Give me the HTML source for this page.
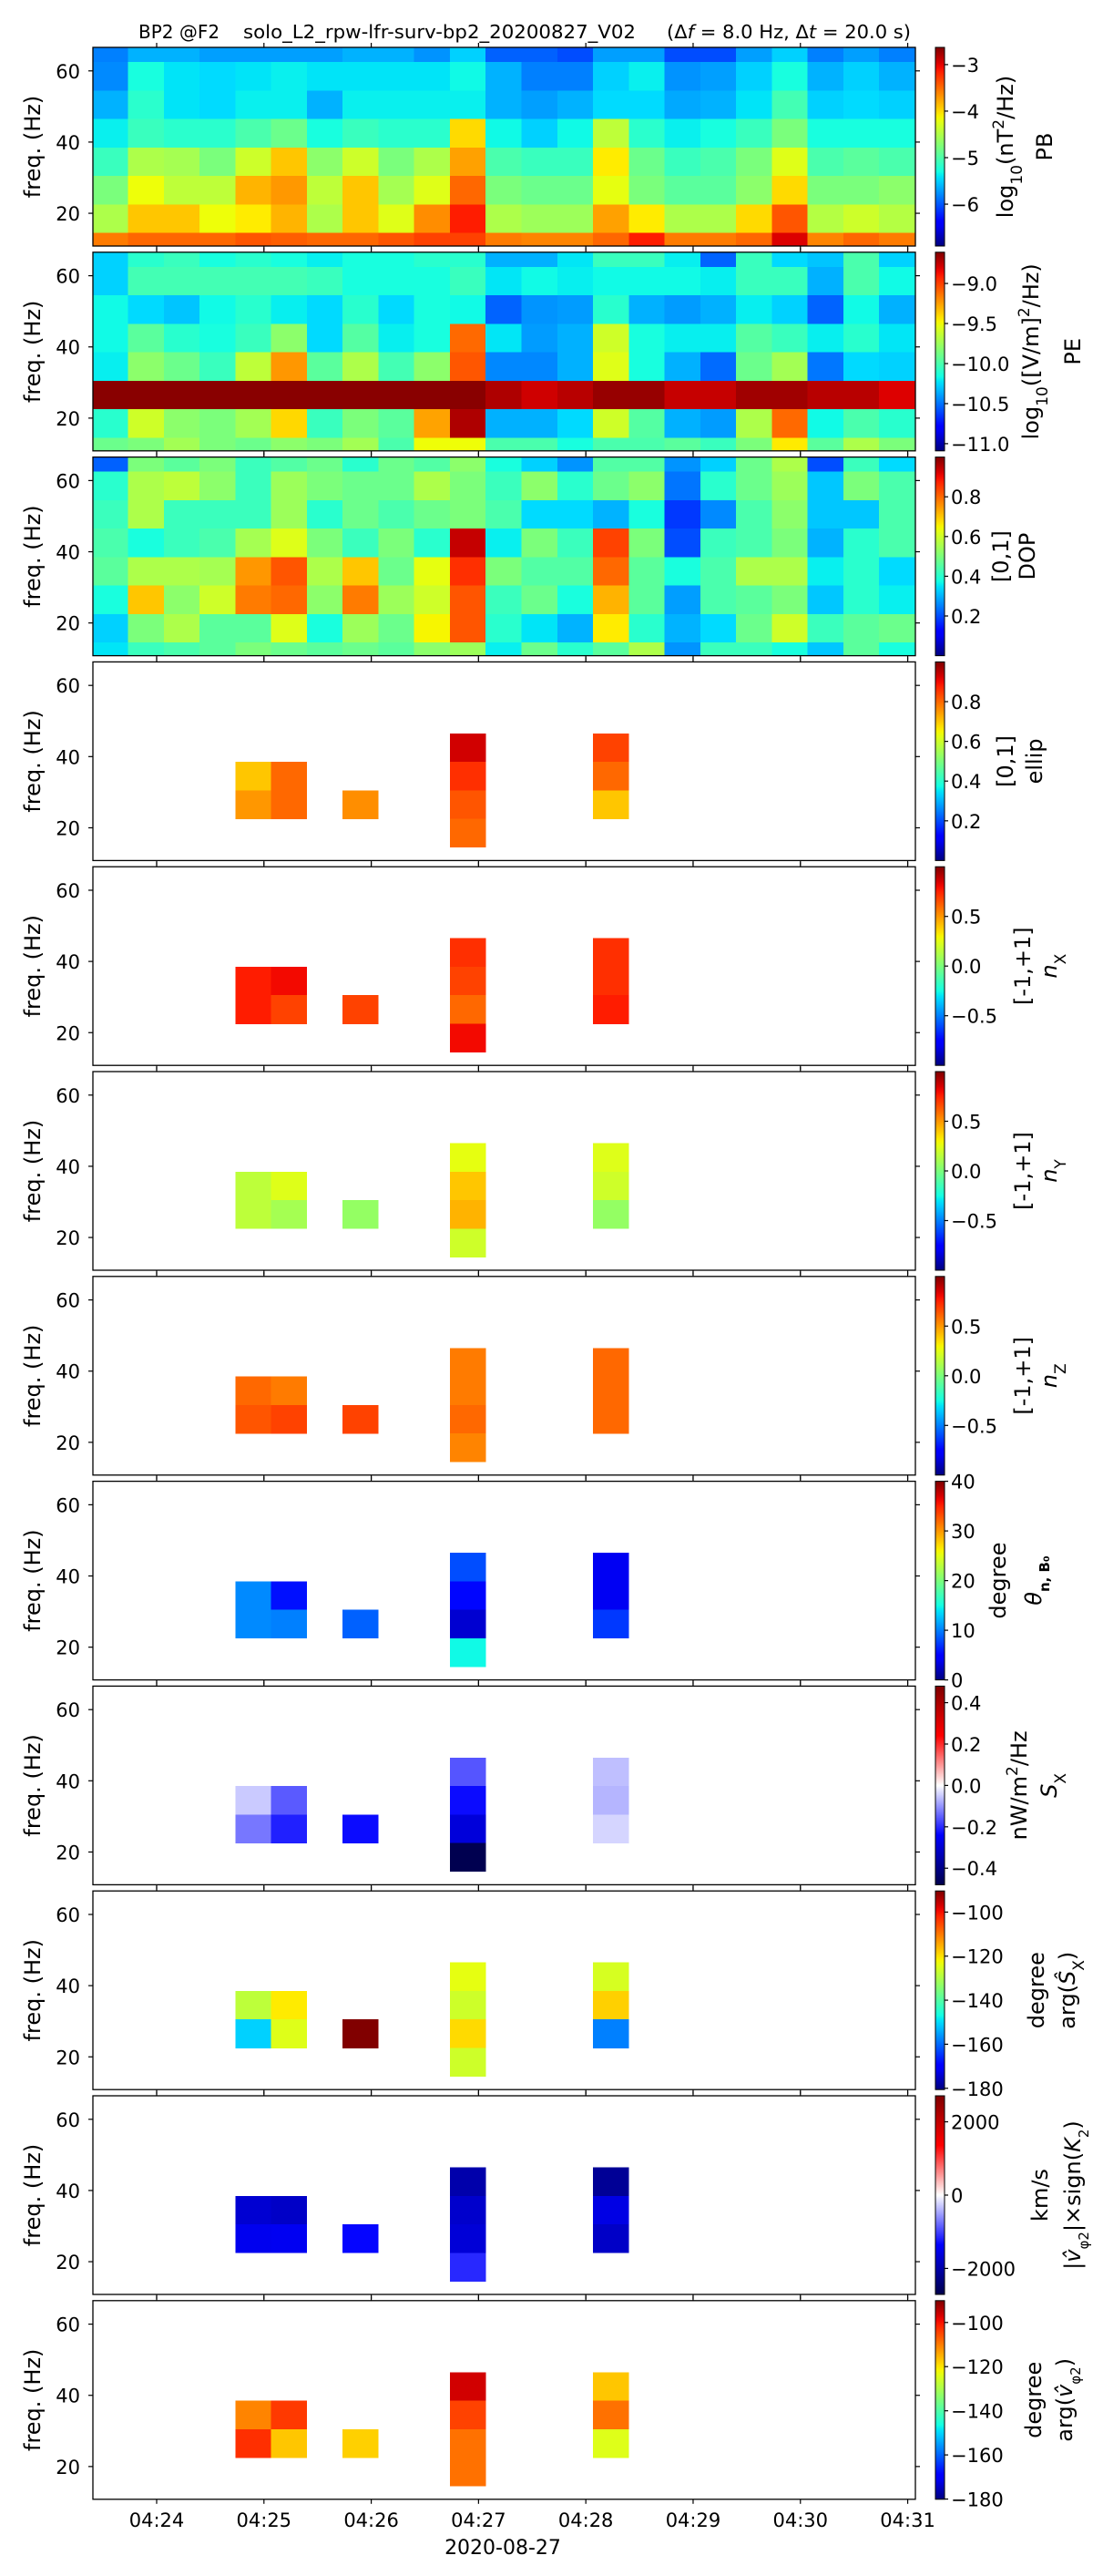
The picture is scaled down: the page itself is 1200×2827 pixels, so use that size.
<!DOCTYPE html>
<html><head><meta charset="utf-8"><style>
html,body{margin:0;padding:0;background:#fff;}
svg{display:block;font-family:"DejaVu Sans","Liberation Sans",sans-serif;}
</style></head><body>
<svg id="fig" width="1200" height="2827" viewBox="0 0 1200 2827" xmlns="http://www.w3.org/2000/svg">
<rect width="1200" height="2827" fill="#fff"/>
<g font-size="20" fill="#000">
<text x="152" y="42">BP2 @F2</text>
<text x="267" y="42" textLength="431" lengthAdjust="spacingAndGlyphs">solo_L2_rpw-lfr-surv-bp2_20200827_V02</text>
<text x="732" y="42" textLength="268" lengthAdjust="spacingAndGlyphs">(Δ<tspan font-style="italic">f</tspan> = 8.0 Hz, Δ<tspan font-style="italic">t</tspan> = 20.0 s)</text>
</g>
<g id="plots"></g>
</svg>
<script>
// time bin centres (s after 04:24:00)
const times = [-26,-6,14,34,54,74,94,114,134,154,174,194,214,234,254,274,294,314,334,354,374,394,414];
// frequency bin centres (Hz), top row first
const freqs = [66.5,58.5,50.5,42.5,34.5,26.5,18.5,10.5];
const xTickSec = [0,60,120,180,240,300,360,420];
const xTickLabels = ["04:24","04:25","04:26","04:27","04:28","04:29","04:30","04:31"];
const yTicks = [20,40,60];

const pbData = [
[-5.83,-5.62,-5.62,-5.70,-5.70,-5.70,-5.70,-5.62,-5.62,-5.75,-5.49,-5.96,-5.96,-6.05,-5.70,-5.70,-6.05,-6.05,-5.70,-5.49,-5.83,-5.70,-5.83],
[-5.79,-5.28,-5.41,-5.45,-5.41,-5.36,-5.41,-5.41,-5.41,-5.41,-5.32,-5.62,-5.83,-5.83,-5.49,-5.36,-5.75,-5.70,-5.49,-5.28,-5.62,-5.49,-5.62],
[-5.62,-5.19,-5.41,-5.45,-5.36,-5.36,-5.62,-5.36,-5.36,-5.36,-5.36,-5.62,-5.70,-5.62,-5.45,-5.45,-5.66,-5.62,-5.41,-5.06,-5.49,-5.45,-5.49],
[-5.36,-5.11,-5.19,-5.19,-5.02,-4.85,-5.28,-5.11,-5.19,-5.19,-4.00,-5.32,-5.49,-5.32,-4.42,-5.19,-5.36,-5.28,-5.11,-4.77,-5.28,-5.28,-5.28],
[-5.11,-4.51,-4.55,-4.77,-4.34,-3.91,-4.68,-4.34,-4.77,-4.51,-3.74,-5.02,-5.11,-5.11,-4.08,-4.85,-5.11,-5.02,-4.77,-4.25,-5.02,-4.94,-5.02],
[-4.77,-4.17,-4.42,-4.42,-3.83,-3.70,-4.42,-3.91,-4.55,-4.25,-3.48,-4.77,-4.85,-4.85,-4.21,-4.77,-4.94,-4.94,-4.68,-4.00,-4.77,-4.77,-4.68],
[-4.51,-3.91,-3.91,-4.17,-4.08,-3.83,-4.51,-3.91,-4.25,-3.65,-3.14,-4.51,-4.59,-4.59,-3.74,-4.08,-4.51,-4.51,-4.00,-3.40,-4.47,-4.34,-4.47],
[-3.57,-3.48,-3.48,-3.48,-3.40,-3.44,-3.48,-3.48,-3.40,-3.31,-3.31,-3.57,-3.61,-3.61,-3.48,-3.14,-3.57,-3.57,-3.48,-2.97,-3.61,-3.48,-3.57]];

const peData = [
[-10.27,-10.10,-10.05,-10.15,-10.10,-10.15,-10.20,-10.15,-10.15,-10.10,-10.10,-10.35,-10.35,-10.22,-10.05,-10.05,-10.20,-10.54,-10.05,-10.25,-10.30,-10.00,-10.27],
[-10.27,-10.02,-10.02,-10.02,-10.02,-10.02,-10.05,-10.15,-10.15,-10.15,-10.05,-10.22,-10.17,-10.20,-10.17,-10.17,-10.17,-10.20,-10.05,-10.05,-10.35,-10.00,-10.17],
[-10.17,-10.25,-10.30,-10.17,-10.10,-10.20,-10.25,-10.10,-10.25,-10.15,-10.17,-10.54,-10.42,-10.40,-10.10,-10.35,-10.40,-10.35,-10.20,-10.27,-10.54,-10.17,-10.35],
[-10.17,-9.95,-10.10,-10.15,-10.05,-9.80,-10.25,-9.97,-10.20,-10.15,-9.11,-10.22,-10.40,-10.35,-9.60,-10.15,-10.20,-10.20,-9.97,-10.05,-10.20,-10.10,-10.22],
[-10.20,-9.80,-9.90,-10.05,-9.65,-9.23,-9.95,-9.70,-10.02,-9.80,-9.06,-10.45,-10.45,-10.35,-9.55,-10.15,-10.35,-10.52,-9.90,-9.73,-10.49,-10.25,-10.27],
[-8.63,-8.63,-8.63,-8.63,-8.63,-8.63,-8.63,-8.63,-8.63,-8.63,-8.63,-8.71,-8.78,-8.73,-8.66,-8.66,-8.76,-8.76,-8.68,-8.68,-8.73,-8.73,-8.81],
[-10.10,-9.60,-9.80,-9.85,-9.73,-9.40,-10.05,-9.85,-9.95,-9.26,-8.71,-10.35,-10.35,-10.25,-9.60,-9.97,-10.35,-10.40,-9.70,-9.11,-10.17,-10.00,-10.10],
[-9.90,-9.85,-9.73,-9.85,-9.90,-9.80,-9.85,-9.73,-10.00,-9.50,-9.50,-10.00,-10.00,-10.15,-10.00,-10.00,-9.95,-10.05,-9.85,-9.45,-9.95,-9.70,-9.85]];

const dopData = [
[0.22,0.50,0.46,0.50,0.42,0.45,0.48,0.40,0.48,0.45,0.52,0.38,0.33,0.27,0.45,0.45,0.27,0.33,0.48,0.56,0.20,0.42,0.34],
[0.40,0.56,0.58,0.52,0.42,0.54,0.50,0.48,0.48,0.56,0.50,0.42,0.52,0.40,0.48,0.52,0.24,0.40,0.48,0.54,0.32,0.50,0.44],
[0.42,0.56,0.42,0.42,0.42,0.54,0.40,0.48,0.44,0.48,0.50,0.44,0.34,0.34,0.30,0.38,0.18,0.26,0.44,0.52,0.32,0.32,0.44],
[0.44,0.38,0.42,0.44,0.55,0.62,0.50,0.42,0.50,0.40,0.94,0.36,0.50,0.42,0.84,0.50,0.20,0.42,0.44,0.50,0.30,0.40,0.44],
[0.46,0.56,0.56,0.55,0.75,0.82,0.56,0.70,0.48,0.63,0.86,0.50,0.45,0.45,0.80,0.46,0.38,0.44,0.56,0.56,0.36,0.40,0.34],
[0.38,0.70,0.52,0.60,0.78,0.80,0.52,0.78,0.54,0.60,0.82,0.42,0.48,0.38,0.72,0.46,0.28,0.44,0.46,0.50,0.32,0.40,0.36],
[0.33,0.50,0.56,0.46,0.46,0.62,0.38,0.54,0.48,0.65,0.82,0.40,0.35,0.30,0.66,0.40,0.30,0.34,0.48,0.60,0.42,0.46,0.48],
[0.35,0.42,0.44,0.46,0.50,0.48,0.46,0.48,0.46,0.52,0.54,0.36,0.48,0.40,0.46,0.56,0.27,0.42,0.42,0.38,0.32,0.46,0.38]];

// sparse cells (time-bin index and frequency)
const sparseCols  = [4,4,5,5,7,10,10,10,10,14,14,14];
const sparseFreqs = [34.5,26.5,34.5,26.5,26.5,42.5,34.5,26.5,18.5,42.5,34.5,26.5];
const ellipVals = [0.70,0.75,0.80,0.80,0.76,0.93,0.86,0.82,0.80,0.84,0.80,0.70];
const nxVals    = [0.76,0.76,0.80,0.68,0.68,0.72,0.68,0.60,0.80,0.72,0.72,0.76];
const nyVals    = [0.16,0.16,0.24,0.10,0.06,0.26,0.40,0.44,0.20,0.24,0.20,0.06];
const nzVals    = [0.60,0.64,0.56,0.68,0.68,0.56,0.56,0.60,0.54,0.60,0.60,0.60];
const thetaVals = [10.4,10.4,5.6,10.0,8.8,8.0,5.2,2.8,14.8,4.0,4.0,7.2];
const sxVals    = [-0.05,-0.128,-0.155,-0.21,-0.23,-0.16,-0.23,-0.29,-0.475,-0.06,-0.07,-0.04];
const argSxVals = [-128.3,-150.8,-121.0,-124.7,-90.5,-123.8,-126.5,-119.3,-126.5,-125.6,-118.4,-158.0];
const vphiVals  = [-1700,-1474,-1778,-1450,-1330,-1995,-1740,-1660,-1143,-2150,-1560,-1778];
const argVVals  = [-110.8,-102.7,-103.6,-117.1,-118.0,-96.4,-104.5,-109.0,-109.0,-117.1,-109.0,-124.3];

const NS="http://www.w3.org/2000/svg";
const X0=102,X1=1005,XMIN=-35.65,XMAX=424.3;
const YMIN=10.8,YMAX=66.6,PH=218,TOP0=52,PITCH=224.8;
function xs(t){return X0+(t-XMIN)/(XMAX-XMIN)*(X1-X0);}
function ys(f,top){return top+(YMAX-f)/(YMAX-YMIN)*PH;}
function interp(pts,v){for(let i=1;i<pts.length;i++){if(v<=pts[i][0]){const a=pts[i-1],b=pts[i];return a[1]+(b[1]-a[1])*(v-a[0])/(b[0]-a[0]);}}return pts[pts.length-1][1];}
function jet(v){v=Math.max(0,Math.min(1,v));
 const r=interp([[0,0],[0.35,0],[0.66,1],[0.89,1],[1,0.5]],v);
 const g=interp([[0,0],[0.125,0],[0.375,1],[0.64,1],[0.91,0],[1,0]],v);
 const b=interp([[0,0.5],[0.11,1],[0.34,1],[0.65,0],[1,0]],v);
 return `rgb(${Math.round(r*255)},${Math.round(g*255)},${Math.round(b*255)})`;}
function seismic(v){v=Math.max(0,Math.min(1,v));
 const r=interp([[0,0],[0.25,0],[0.5,1],[0.75,1],[1,0.5]],v);
 const g=interp([[0,0],[0.25,0],[0.5,1],[0.75,0],[1,0]],v);
 const b=interp([[0,0.3],[0.25,1],[0.5,1],[0.75,0],[1,0]],v);
 return `rgb(${Math.round(r*255)},${Math.round(g*255)},${Math.round(b*255)})`;}
function el(tag,attrs,parent){const e=document.createElementNS(NS,tag);for(const k in attrs)e.setAttribute(k,attrs[k]);if(parent)parent.appendChild(e);return e;}

const panels=[
 {name:"pb",dense:pbData,vmin:-6.9,vmax:-2.63,cmap:jet,ticks:[-3,-4,-5,-6],fmt:v=>"−"+Math.abs(v),l1:'log<tspan baseline-shift="sub" font-size="17">10</tspan>(nT<tspan baseline-shift="super" font-size="17">2</tspan>/Hz)',l2:'PB',x1:1112,x2:1155},
 {name:"pe",dense:peData,vmin:-11.09,vmax:-8.61,cmap:jet,ticks:[-9,-9.5,-10,-10.5,-11],fmt:v=>"−"+Math.abs(v).toFixed(1),l1:'log<tspan baseline-shift="sub" font-size="17">10</tspan>([V/m]<tspan baseline-shift="super" font-size="17">2</tspan>/Hz)',l2:'PE',x1:1140,x2:1186},
 {name:"dop",dense:dopData,vmin:0,vmax:1,cmap:jet,ticks:[0.2,0.4,0.6,0.8],fmt:v=>v.toFixed(1),l1:'[0,1]',l2:'DOP',x1:1107,x2:1136},
 {name:"ellip",sparse:ellipVals,vmin:0,vmax:1,cmap:jet,ticks:[0.2,0.4,0.6,0.8],fmt:v=>v.toFixed(1),l1:'[0,1]',l2:'ellip',x1:1112,x2:1144},
 {name:"nx",sparse:nxVals,vmin:-1,vmax:1,cmap:jet,ticks:[-0.5,0,0.5],fmt:v=>(v<0?"−":"")+Math.abs(v).toFixed(1),l1:'[-1,+1]',l2:'<tspan font-style="italic">n</tspan><tspan baseline-shift="sub" font-size="17">X</tspan>',x1:1131,x2:1160},
 {name:"ny",sparse:nyVals,vmin:-1,vmax:1,cmap:jet,ticks:[-0.5,0,0.5],fmt:v=>(v<0?"−":"")+Math.abs(v).toFixed(1),l1:'[-1,+1]',l2:'<tspan font-style="italic">n</tspan><tspan baseline-shift="sub" font-size="17">Y</tspan>',x1:1131,x2:1160},
 {name:"nz",sparse:nzVals,vmin:-1,vmax:1,cmap:jet,ticks:[-0.5,0,0.5],fmt:v=>(v<0?"−":"")+Math.abs(v).toFixed(1),l1:'[-1,+1]',l2:'<tspan font-style="italic">n</tspan><tspan baseline-shift="sub" font-size="17">Z</tspan>',x1:1131,x2:1160},
 {name:"theta",sparse:thetaVals,vmin:0,vmax:40,cmap:jet,ticks:[0,10,20,30,40],fmt:v=>String(v),l1:'degree',l2:'<tspan font-style="italic">θ</tspan><tspan baseline-shift="sub" font-size="15" font-weight="bold">n, B₀</tspan>',x1:1104,x2:1143},
 {name:"sx",sparse:sxVals,vmin:-0.48,vmax:0.48,cmap:seismic,ticks:[-0.4,-0.2,0,0.2,0.4],fmt:v=>(v<0?"−":"")+Math.abs(v).toFixed(1),l1:'nW/m<tspan baseline-shift="super" font-size="17">2</tspan>/Hz',l2:'<tspan font-style="italic">S</tspan><tspan baseline-shift="sub" font-size="17">X</tspan>',x1:1127,x2:1160},
 {name:"arg-sx",sparse:argSxVals,vmin:-180.6,vmax:-90.4,cmap:jet,ticks:[-100,-120,-140,-160,-180],fmt:v=>"−"+Math.abs(v),l1:'degree',l2:'arg(<tspan font-style="italic">Ŝ</tspan><tspan baseline-shift="sub" font-size="17">X</tspan>)',x1:1146,x2:1180},
 {name:"vphi",sparse:vphiVals,vmin:-2710,vmax:2710,cmap:seismic,ticks:[-2000,0,2000],fmt:v=>(v<0?"−":"")+Math.abs(v),l1:'km/s',l2:'|<tspan font-style="italic">v̂</tspan><tspan baseline-shift="sub" font-size="15">φ2</tspan>|×sign(<tspan font-style="italic">K</tspan><tspan baseline-shift="sub" font-size="15">2</tspan>)',x1:1150,x2:1186},
 {name:"arg-vphi",sparse:argVVals,vmin:-180.1,vmax:-90.1,cmap:jet,ticks:[-100,-120,-140,-160,-180],fmt:v=>"−"+Math.abs(v),l1:'degree',l2:'arg(<tspan font-style="italic">v̂</tspan><tspan baseline-shift="sub" font-size="15">φ2</tspan>)',x1:1143,x2:1177}
];

const root=document.getElementById('plots');
const defs=el('defs',{},root);
panels.forEach((p,i)=>{
 const top=TOP0+i*PITCH, bot=top+PH;
 const g=el('g',{},root);
 
 
 const cp=el('clipPath',{id:'cp'+i},defs);
 el('rect',{x:X0,y:top,width:X1-X0,height:PH},cp);
 const cells=el('g',{'clip-path':'url(#cp'+i+')','shape-rendering':'crispEdges'},g);
 
 
 const norm=v=>(v-p.vmin)/(p.vmax-p.vmin);
 const w=xs(20)-xs(0);
 function cell(t,f,v){
  const x=xs(t-10),y=ys(f+4,top),h=ys(f-4,top)-y;
  const r=el('rect',{x:x.toFixed(2),y:y.toFixed(2),width:(w+0.3).toFixed(2),height:(h+0.3).toFixed(2),fill:p.cmap(norm(v))},cells);
  
  
 }
 if(p.dense){p.dense.forEach((row,ri)=>row.forEach((v,ci)=>cell(times[ci],freqs[ri],v)));}
 else{p.sparse.forEach((v,k)=>cell(times[sparseCols[k]],sparseFreqs[k],v));}
 // frame
 const fr=el('rect',{x:X0,y:top,width:X1-X0,height:PH,fill:'none',stroke:'#000','stroke-width':1.3},g);
 
 
 // x ticks
 xTickSec.forEach((s,k)=>{const x=xs(s);
  el('line',{x1:x,x2:x,y1:top,y2:top-5,stroke:'#000','stroke-width':1.2},g);
  el('line',{x1:x,x2:x,y1:bot,y2:bot+5,stroke:'#000','stroke-width':1.2},g);
  if(i===panels.length-1){const t=el('text',{x:x,y:bot+30,'text-anchor':'middle','font-size':21},g);t.textContent=xTickLabels[k];
   
   }
 });
 // y ticks
 yTicks.forEach(f=>{const y=ys(f,top);
  el('line',{x1:X0,x2:X0-5,y1:y,y2:y,stroke:'#000','stroke-width':1.2},g);
  el('line',{x1:X1,x2:X1+5,y1:y,y2:y,stroke:'#000','stroke-width':1.2},g);
  const t=el('text',{x:88,y:y+8,'text-anchor':'end','font-size':21},g);t.textContent=f;
  
  
 });
 const yl=el('text',{transform:`translate(44,${top+PH/2}) rotate(-90)`,'text-anchor':'middle','font-size':24},g);
 yl.textContent='freq. (Hz)';
 
 
 // colorbar
 const gid='grad'+i;
 const lg=el('linearGradient',{id:gid,x1:0,y1:1,x2:0,y2:0},defs);
 for(let s=0;s<=40;s++){el('stop',{offset:(s/40),'stop-color':p.cmap(s/40)},lg);}
 const cb=el('rect',{x:1027,y:top,width:10,height:PH,fill:`url(#${gid})`,stroke:'#000','stroke-width':1},g);
 
 
 p.ticks.forEach(v=>{const y=bot-norm(v)*PH;
  el('line',{x1:1037,x2:1041,y1:y,y2:y,stroke:'#000','stroke-width':1.2},g);
  const t=el('text',{x:1044,y:y+8,'font-size':21},g);t.textContent=p.fmt(v);
  
  
 });
 const c1=el('text',{transform:`translate(${p.x1},${top+PH/2}) rotate(-90)`,'text-anchor':'middle','font-size':24},g);
 c1.innerHTML=p.l1;
 
 
 const c2=el('text',{transform:`translate(${p.x2},${top+PH/2}) rotate(-90)`,'text-anchor':'middle','font-size':24},g);
 c2.innerHTML=p.l2;
 
 
});
const xl=el('text',{x:552,y:2803,'text-anchor':'middle','font-size':22},root);
xl.textContent='2020-08-27';


</script>
</body></html>
